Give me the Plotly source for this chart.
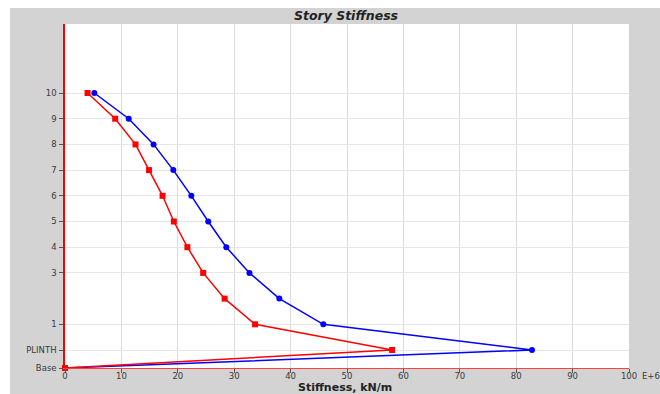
import plotly.graph_objects as go

# Story levels and their elevations (plotting positions)
story_labels = ["Base", "PLINTH", "1", "2", "3", "4", "5", "6", "7", "8", "9", "10"]
story_pos = [0.0, 0.7, 1.7, 2.7, 3.7, 4.7, 5.7, 6.7, 7.7, 8.7, 9.7, 10.7]

# Story stiffness (E+6 kN/m)
stiff_red = [0.0, 58.0, 33.7, 28.3, 24.5, 21.7, 19.3, 17.3, 14.9, 12.5, 8.9, 4.0]
stiff_blue = [0.0, 82.8, 45.8, 38.0, 32.7, 28.6, 25.4, 22.4, 19.2, 15.7, 11.3, 5.2]

# Labelled ticks (level "2" has no label in the original)
tick_labels = [l for l in story_labels if l != "2"]
tick_pos = [p for l, p in zip(story_labels, story_pos) if l != "2"]
x_ticks = [0, 10, 20, 30, 40, 50, 60, 70, 80, 90, 100]

FONT = "DejaVu Sans, Verdana, sans-serif"

fig = go.Figure()
fig.add_trace(go.Scatter(
    x=stiff_blue, y=story_pos, mode="lines+markers",
    line=dict(color="#0000ff", width=1.5),
    marker=dict(symbol="circle", size=6, color="#0000ff"),
    showlegend=False, cliponaxis=False))
fig.add_trace(go.Scatter(
    x=stiff_red, y=story_pos, mode="lines+markers",
    line=dict(color="#ff0000", width=1.5),
    marker=dict(symbol="square", size=6, color="#ff0000"),
    showlegend=False, cliponaxis=False))

L, R, T, B = 65, 31, 24, 26
W, H = 660, 394
pw, ph = W - L - R, H - T - B

def px(x):
    return (x - L) / pw

def py(y):
    return (H - B - y) / ph

tickfont = dict(family=FONT, size=8.5, color="#3a3a3a")

fig.update_layout(
    width=W, height=H, autosize=False,
    margin=dict(l=L, r=R, t=T, b=B, pad=0, autoexpand=False),
    paper_bgcolor="#d3d3d3",
    plot_bgcolor="#ffffff",
    font=dict(family=FONT, size=8, color="#333333"),
    title=dict(text="<b><i>Story Stiffness</i></b>", xref="paper", x=px(346),
               xanchor="center", yref="container",
               y=1 - 16 / H, yanchor="middle",
               font=dict(family=FONT, size=12.5, color="#222222")),
    xaxis=dict(
        range=[0, 100], tickvals=x_ticks, ticktext=[str(v) for v in x_ticks],
        showgrid=True, gridcolor="#dcdcdc", gridwidth=1,
        zeroline=False, showline=True, linecolor="#ff4040", linewidth=1,
        ticks="outside", ticklen=4, tickcolor="#555555",
        tickfont=tickfont, ticklabelstandoff=-4,
        title=dict(text=""), automargin=False,
        fixedrange=True),
    yaxis=dict(
        range=[0, (H - B - T) / 25.7], tickvals=tick_pos, ticktext=tick_labels,
        showgrid=True, gridcolor="#e6e6e6", gridwidth=1,
        zeroline=False, showline=True, linecolor="#ff0000", linewidth=1.5,
        ticks="outside", ticklen=4, tickcolor="#555555",
        tickfont=tickfont, ticklabelstandoff=1,
        automargin=False,
        fixedrange=True),
    shapes=[
        dict(type="rect", xref="paper", yref="paper", layer="above",
             x0=px(0), x1=px(10), y0=py(H), y1=py(0),
             fillcolor="#ffffff", line=dict(width=0)),
        dict(type="rect", xref="paper", yref="paper", layer="above",
             x0=px(0), x1=px(W), y0=py(8), y1=py(0),
             fillcolor="#ffffff", line=dict(width=0)),
    ],
    annotations=[
        dict(text="E+6", xref="paper", yref="paper", x=px(641), y=py(376),
             xanchor="left", yanchor="middle", showarrow=False, borderpad=0,
             font=tickfont),
        dict(text="<b>Stiffness, kN/m</b>", xref="paper", yref="paper",
             x=px(345), y=py(387), xanchor="center", yanchor="middle",
             showarrow=False, borderpad=0,
             font=dict(family=FONT, size=11, color="#222222")),
    ],
)

fig.write_html("out.html")
